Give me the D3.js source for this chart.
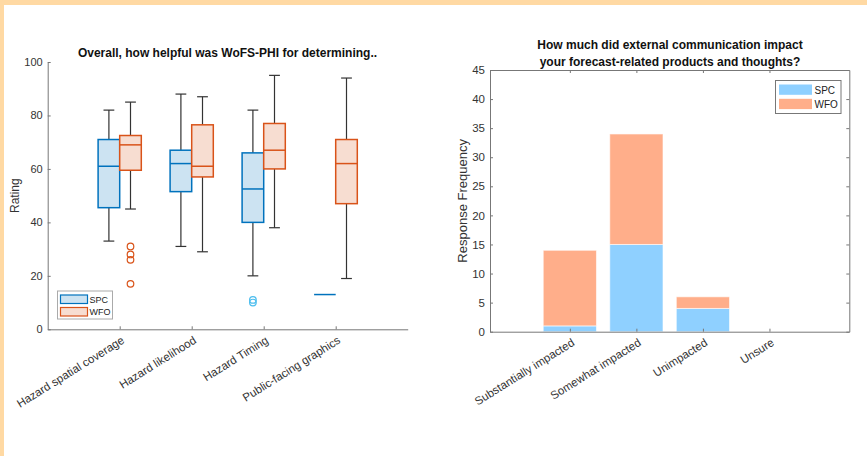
<!DOCTYPE html>
<meta charset="utf-8">
<style>
  body { margin: 0; background: #fff; }
  svg { display: block; font-family: "Liberation Sans", Arial, sans-serif; }
</style>
<body>
<svg width="867" height="456"></svg>
<script src="https://d3js.org/d3.v7.min.js"></script>
<script>

// left chart: box plot data [whiskerLow, q1, median, q3, whiskerHigh]
var boxCategories = ["Hazard spatial coverage", "Hazard likelihood", "Hazard Timing", "Public-facing graphics"];
var spcBoxes = [[33, 45.5, 61, 71, 82], [31, 51.5, 62, 67, 88], [20, 40, 52.5, 66, 82], [13, 13, 13, 13, 13]];
var wfoBoxes = [[45, 59.5, 69, 72.5, 85], [29, 57, 61, 76.5, 87], [38, 60, 67, 77, 95], [19, 47, 62, 71, 94]];
var spcOutliers = [[], [], [10, 11], []];
var wfoOutliers = [[31, 28, 26, 17], [], [], []];
var ratingTicks = [0, 20, 40, 60, 80, 100];

// right chart: stacked bars
var impactCategories = ["Substantially impacted", "Somewhat impacted", "Unimpacted", "Unsure"];
var spcCounts = [1, 15, 4, 0];
var wfoCounts = [13, 19, 2, 0];
var freqTicks = [0, 5, 10, 15, 20, 25, 30, 35, 40, 45];

var svg = d3.select("svg");

// orange frame
svg.append("rect").attr("x", 0).attr("y", 0).attr("width", 867).attr("height", 5).attr("fill", "#ffd9a3");
svg.append("rect").attr("x", 0).attr("y", 0).attr("width", 4).attr("height", 456).attr("fill", "#ffd9a3");

var blue = "#0072bd", blueFill = "#cce3f2", orange = "#d95319", orangeFill = "#f7ddd1";

// ---------- left: box chart ----------
var xL = d3.scaleLinear().domain([0, 5]).range([47.7, 407.7]);
var yL = d3.scaleLinear().domain([0, 100]).range([329.3, 62]);
var left = svg.append("g");

left.append("g")
  .attr("transform", "translate(" + xL(0) + ",0)")
  .call(d3.axisLeft(yL).tickValues(ratingTicks).tickSizeInner(-3).tickSizeOuter(0).tickPadding(5))
  .call(function(g) {
    g.select(".domain").attr("stroke", "#777");
    g.selectAll(".tick line").attr("stroke", "#777");
    g.selectAll("text").attr("fill", "#333").attr("font-size", 11).attr("font-family", null);
  });

left.append("g")
  .attr("transform", "translate(0," + yL(0) + ")")
  .call(d3.axisBottom(xL).tickValues([1, 2, 3, 4]).tickSizeInner(-3).tickSizeOuter(0).tickFormat(function(d) { return boxCategories[d - 1]; }))
  .call(function(g) {
    g.select(".domain").attr("stroke", "#777");
    g.selectAll(".tick line").attr("stroke", "#777");
    g.selectAll("text").attr("fill", "#333").attr("font-size", 11.5).attr("font-family", null)
      .attr("text-anchor", "end").attr("dy", null).attr("y", 0)
      .attr("transform", "translate(5,13) rotate(-32)");
  });

left.append("text")
  .attr("transform", "translate(19," + ((yL(0) + yL(100)) / 2) + ") rotate(-90)")
  .attr("text-anchor", "middle").attr("font-size", 12).attr("fill", "#333")
  .text("Rating");

left.append("text")
  .attr("x", 227.5).attr("y", 57)
  .attr("text-anchor", "middle").attr("font-size", 12).attr("font-weight", "bold").attr("fill", "#111")
  .text("Overall, how helpful was WoFS-PHI for determining..");

var boxW = 0.3;
function drawBoxes(stats, outliers, offset, edge, fill, outColor) {
  stats.forEach(function(s, i) {
    var c = i + 1 + offset;
    var g = left.append("g");
    if (s[0] === s[4]) {
      g.append("line")
        .attr("x1", xL(c - boxW / 2)).attr("x2", xL(c + boxW / 2))
        .attr("y1", yL(s[2])).attr("y2", yL(s[2]))
        .attr("stroke", edge).attr("stroke-width", 1.5);
      return;
    }
    // whiskers
    g.append("line").attr("x1", xL(c)).attr("x2", xL(c)).attr("y1", yL(s[3])).attr("y2", yL(s[4]))
      .attr("stroke", "#333").attr("stroke-width", 1.2);
    g.append("line").attr("x1", xL(c)).attr("x2", xL(c)).attr("y1", yL(s[1])).attr("y2", yL(s[0]))
      .attr("stroke", "#333").attr("stroke-width", 1.2);
    [s[0], s[4]].forEach(function(v) {
      g.append("line").attr("x1", xL(c - 0.075)).attr("x2", xL(c + 0.075)).attr("y1", yL(v)).attr("y2", yL(v))
        .attr("stroke", "#333").attr("stroke-width", 1.2);
    });
    g.append("rect")
      .attr("x", xL(c - boxW / 2)).attr("width", xL(boxW) - xL(0))
      .attr("y", yL(s[3])).attr("height", yL(s[1]) - yL(s[3]))
      .attr("fill", fill).attr("stroke", edge).attr("stroke-width", 1.5);
    g.append("line")
      .attr("x1", xL(c - boxW / 2)).attr("x2", xL(c + boxW / 2))
      .attr("y1", yL(s[2])).attr("y2", yL(s[2]))
      .attr("stroke", edge).attr("stroke-width", 1.5);
    outliers[i].forEach(function(v) {
      g.append("circle").attr("cx", xL(c)).attr("cy", yL(v)).attr("r", 3.3)
        .attr("fill", "none").attr("stroke", outColor).attr("stroke-width", 1.2);
    });
  });
}
drawBoxes(spcBoxes, spcOutliers, -0.15, blue, blueFill, "#4dbeee");
drawBoxes(wfoBoxes, wfoOutliers, 0.15, orange, orangeFill, orange);

var legL = left.append("g");
legL.append("rect").attr("x", 57.5).attr("y", 291).attr("width", 55).attr("height", 28)
  .attr("fill", "#fff").attr("stroke", "#aaa").attr("stroke-width", 1);
[["SPC", blue, blueFill], ["WFO", orange, orangeFill]].forEach(function(e, i) {
  legL.append("rect").attr("x", 60.5).attr("y", 295 + i * 12.5).attr("width", 27).attr("height", 8.5)
    .attr("fill", e[2]).attr("stroke", e[1]).attr("stroke-width", 1.2);
  legL.append("text").attr("x", 89.5).attr("y", 302.5 + i * 12.5).attr("font-size", 9).attr("fill", "#222").text(e[0]);
});

// ---------- right: stacked bar chart ----------
var xR = d3.scaleLinear().domain([-0.2, 5.2]).range([490, 849.3]);
var yR = d3.scaleLinear().domain([0, 45]).range([331.7, 70]);
var right = svg.append("g");

var barW = 0.8;
impactCategories.forEach(function(cat, i) {
  var c = i + 1;
  right.append("rect")
    .attr("x", xR(c - barW / 2)).attr("width", xR(barW) - xR(0))
    .attr("y", yR(spcCounts[i])).attr("height", yR(0) - yR(spcCounts[i]))
    .attr("fill", "#8fd0ff").attr("stroke", "#fff").attr("stroke-opacity", 0.6).attr("stroke-width", 1);
  right.append("rect")
    .attr("x", xR(c - barW / 2)).attr("width", xR(barW) - xR(0))
    .attr("y", yR(spcCounts[i] + wfoCounts[i])).attr("height", yR(spcCounts[i]) - yR(spcCounts[i] + wfoCounts[i]))
    .attr("fill", "#ffae8a").attr("stroke", "#fff").attr("stroke-opacity", 0.6).attr("stroke-width", 1);
});

function styleAxis(g) {
  g.select(".domain").attr("stroke", "#777");
  g.selectAll(".tick line").attr("stroke", "#777");
  g.selectAll("text").attr("fill", "#333").attr("font-size", 11.5).attr("font-family", null);
}
right.append("g").attr("transform", "translate(" + xR.range()[0] + ",0)")
  .call(d3.axisLeft(yR).tickValues(freqTicks).tickSizeInner(-3).tickSizeOuter(0).tickPadding(5)).call(styleAxis);
right.append("g").attr("transform", "translate(" + xR.range()[1] + ",0)")
  .call(d3.axisRight(yR).tickValues(freqTicks).tickSizeInner(-3).tickSizeOuter(0).tickFormat(""))
  .call(styleAxis);
right.append("g").attr("transform", "translate(0," + yR(45) + ")")
  .call(d3.axisTop(xR).tickValues([1, 2, 3, 4]).tickSizeInner(-3).tickSizeOuter(0).tickFormat(""))
  .call(styleAxis);
right.append("g").attr("transform", "translate(0," + yR(0) + ")")
  .call(d3.axisBottom(xR).tickValues([1, 2, 3, 4]).tickSizeInner(-3).tickSizeOuter(0).tickFormat(function(d) { return impactCategories[d - 1]; }))
  .call(styleAxis)
  .call(function(g) {
    g.selectAll("text").attr("text-anchor", "end").attr("dy", null).attr("y", 0)
      .attr("transform", "translate(5,13) rotate(-32)");
  });

right.append("text")
  .attr("transform", "translate(467," + ((yR(0) + yR(45)) / 2) + ") rotate(-90)")
  .attr("text-anchor", "middle").attr("font-size", 13).attr("fill", "#333")
  .text("Response Frequency");

right.append("text").attr("x", 670).attr("y", 49)
  .attr("text-anchor", "middle").attr("font-size", 12).attr("font-weight", "bold").attr("fill", "#111")
  .text("How much did external communication impact");
right.append("text").attr("x", 670).attr("y", 66)
  .attr("text-anchor", "middle").attr("font-size", 12).attr("font-weight", "bold").attr("fill", "#111")
  .text("your forecast-related products and thoughts?");

var legR = right.append("g");
legR.append("rect").attr("x", 775.5).attr("y", 80.5).attr("width", 65.5).attr("height", 33)
  .attr("fill", "#fff").attr("stroke", "#777").attr("stroke-width", 1);
[["SPC", "#8fd0ff"], ["WFO", "#ffae8a"]].forEach(function(e, i) {
  legR.append("rect").attr("x", 779).attr("y", 84.5 + i * 14.3).attr("width", 33).attr("height", 10.3).attr("fill", e[1]);
  legR.append("text").attr("x", 814.5).attr("y", 93.5 + i * 14.3).attr("font-size", 10).attr("fill", "#222").text(e[0]);
});

</script>
</body>
